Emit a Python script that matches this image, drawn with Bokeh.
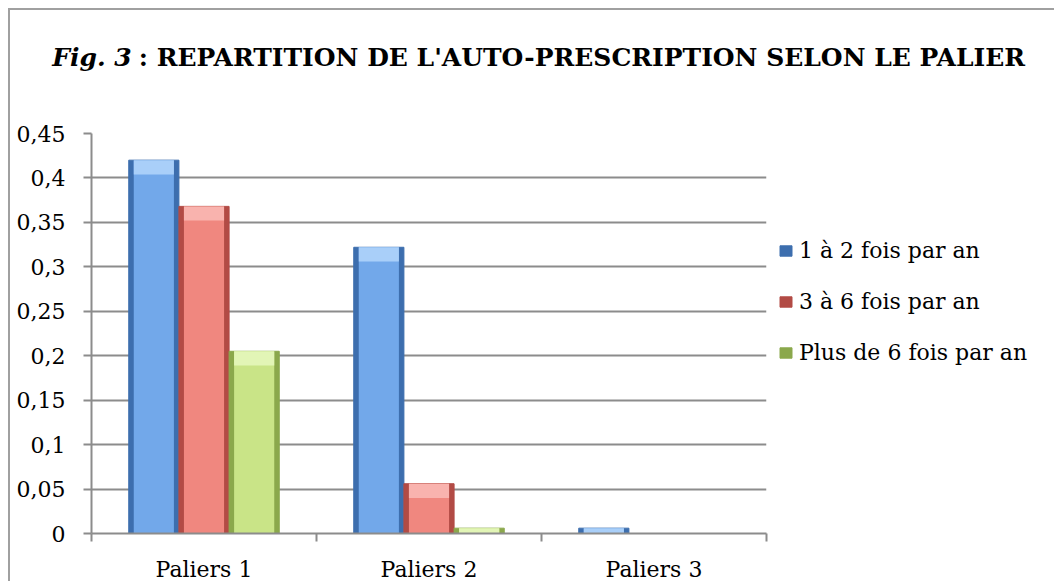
import numpy as np
from bokeh.plotting import figure
from bokeh.layouts import column
from bokeh.models import (Range1d, FixedTicker, CustomJSTickFormatter, Legend, LegendItem,
                          ColumnDataSource)
from bokeh.core.properties import value
from bokeh.embed import file_html
from bokeh.resources import INLINE

categories = ["Paliers 1", "Paliers 2", "Paliers 3"]
series_names = ["1 à 2 fois par an", "3 à 6 fois par an", "Plus de 6 fois par an"]
s1 = [0.42, 0.322, 0.006]
s2 = [0.368, 0.056, 0.0]
s3 = [0.205, 0.006, 0.0]
y_ticks = [0, 0.05, 0.1, 0.15, 0.2, 0.25, 0.3, 0.35, 0.4, 0.45]
title_italic = "Fig. 3"
title_rest = ": REPARTITION DE L'AUTO-PRESCRIPTION SELON LE PALIER"

body_colors = ["#72a8ea", "#f0877f", "#c9e487"]
cap_colors = ["#a9cff9", "#f9b3ae", "#e2f5b6"]
edge_colors = ["#3d6eae", "#b24b45", "#8ba84c"]

FONT = "DejaVu Serif"
BORDER = "2px solid #a0a0a0"

# ---- title strip (its own small svg figure) ----
W = 1046
TH = 100
tf = figure(width=W, height=TH, output_backend="svg", toolbar_location=None,
            x_range=Range1d(0, W - 2), y_range=Range1d(0, TH - 2),
            min_border=0, min_border_left=0, min_border_right=0,
            min_border_top=0, min_border_bottom=0)
tf.title = None
tf.frame_align = False
tf.axis.visible = False
tf.grid.visible = False
tf.outline_line_color = None
tf.background_fill_color = "white"
tf.border_fill_color = "white"
tf.styles = {"border-left": BORDER, "border-top": BORDER}
tf.text(x=[121], y=[52], text=[title_italic], text_font=value(FONT),
        text_font_size="25px", text_font_style="bold italic",
        text_align="right", text_baseline="alphabetic", text_color="black")
tf.text(x=[128], y=[52], text=[title_rest], text_font=value(FONT),
        text_font_size="25px", text_font_style="bold",
        text_align="left", text_baseline="alphabetic", text_color="black")

# ---- main chart ----
p = figure(frame_width=673, frame_height=400, output_backend="svg", toolbar_location=None,
           x_range=Range1d(0, 3), y_range=Range1d(0, 0.45),
           min_border_left=81, min_border_right=0, min_border_top=25,
           min_border_bottom=45)
p.frame_align = False
p.background_fill_color = "white"
p.border_fill_color = "white"
p.outline_line_color = None
p.styles = {"border-left": BORDER}

centers = np.arange(len(categories)) + 0.5
bw = 0.223
offsets = [-bw, 0.0, bw]
cap_h = 0.016
legend_items = []
for vals, name, bc, cc, ec, off in zip([s1, s2, s3], series_names, body_colors, cap_colors,
                                        edge_colors, offsets):
    tops = np.array(vals, dtype=float)
    src = ColumnDataSource(dict(x=centers + off, top=tops,
                                capb=np.maximum(tops - cap_h, 0.0)))
    r = p.vbar(x="x", top="top", width=bw, bottom=0, source=src,
               fill_color=ec, line_color=ec, line_width=1)
    p.vbar(x="x", top="top", width=bw * 0.8, bottom=0, source=src,
           fill_color=bc, line_color=None)
    p.vbar(x="x", top="top", bottom="capb", width=bw * 0.8, source=src,
           fill_color=cc, line_color=None)
    legend_items.append(LegendItem(label=name, renderers=[r]))

# grid
p.xgrid.grid_line_color = None
p.ygrid.grid_line_color = "#8c8c8c"
p.ygrid.grid_line_width = 2
p.ygrid.ticker = FixedTicker(ticks=y_ticks)

# y axis
p.yaxis.ticker = FixedTicker(ticks=y_ticks)
p.yaxis.formatter = CustomJSTickFormatter(code="""
let s = tick.toFixed(2);
s = s.replace(/0+$/, '').replace(/\\.$/, '');
return s.replace('.', ',');
""")
p.yaxis.axis_line_color = "#8c8c8c"
p.yaxis.axis_line_width = 2
p.yaxis.major_tick_line_color = "#8c8c8c"
p.yaxis.major_tick_line_width = 2
p.yaxis.major_tick_out = 8
p.yaxis.major_tick_in = 0
p.yaxis.minor_tick_line_color = None
p.yaxis.major_label_standoff = 18
p.yaxis.major_label_text_font = FONT
p.yaxis.major_label_text_font_size = "22px"
p.yaxis.major_label_text_color = "black"

# x axis
p.xaxis.ticker = FixedTicker(ticks=list(centers), minor_ticks=list(np.arange(len(categories) + 1)))
p.xaxis.major_label_overrides = {float(c): n for c, n in zip(centers, categories)}
p.xaxis.axis_line_color = "#8c8c8c"
p.xaxis.axis_line_width = 2
p.xaxis.major_tick_line_color = None
p.xaxis.major_tick_out = 0
p.xaxis.major_tick_in = 0
p.xaxis.minor_tick_line_color = "#8c8c8c"
p.xaxis.minor_tick_line_width = 2
p.xaxis.minor_tick_out = 8
p.xaxis.minor_tick_in = 0
p.xaxis.major_label_standoff = 15
p.xaxis.major_label_text_font = FONT
p.xaxis.major_label_text_font_size = "22px"
p.xaxis.major_label_text_color = "black"

# legend in the right panel
legend = Legend(items=legend_items, location=(12, 168), orientation="vertical",
                glyph_width=15, glyph_height=13, label_standoff=6, label_height=26,
                spacing=25, padding=0, margin=0,
                label_text_font=FONT, label_text_font_size="22px", label_text_color="black",
                border_line_color=None, background_fill_alpha=0)
p.add_layout(legend, "right")

layout = column(tf, p, spacing=0)
layout.styles = {"margin-left": "8px", "margin-top": "8px"}
open("out.html", "w").write(file_html(layout, INLINE))
